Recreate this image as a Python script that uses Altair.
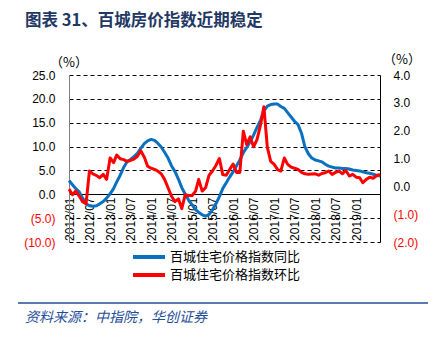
import altair as alt
import pandas as pd

# ---------------- data ----------------
months = pd.date_range("2012-01-01", periods=92, freq="MS").strftime("%Y/%m/%d").tolist()

# 百城住宅价格指数同比 (%, left axis)
yoy = [2.9, 2.0, 1.2, 0.5, -0.8, -2.0, -2.4, -2.5, -2.4, -2.0, -1.5, -0.8,
       0.1, 1.2, 2.6, 4.0, 5.6, 6.8, 7.3, 7.9, 8.6, 9.6, 10.6, 11.2,
       11.5, 11.3, 10.7, 9.9, 8.8, 7.6, 6.0, 4.8, 3.2, 1.4, 0.0, -1.2,
       -2.2, -3.2, -3.8, -4.3, -4.6, -4.2, -3.3, -2.0, -0.5, 1.2, 2.4, 3.6,
       4.7, 6.0, 7.2, 8.7, 9.8, 11.0, 12.4, 14.0, 15.5, 17.5, 18.5, 18.8,
       18.9, 18.9, 18.4, 18.0, 17.1, 16.2, 15.3, 14.6, 12.8, 10.0, 8.5, 7.6,
       7.2, 7.0, 6.8, 6.3, 5.9, 5.7, 5.5, 5.5, 5.4, 5.4, 5.3, 5.1,
       5.0, 4.9, 4.7, 4.5, 4.4, 4.2, 4.0, 3.8]

# 百城住宅价格指数环比 (%, right axis)
mom = [-0.1, -0.3, -0.17, -0.35, -0.55, -0.62, 0.55, 0.45, 0.39, 0.31, 0.43, 0.25,
       1.02, 0.85, 1.12, 0.99, 0.96, 0.9, 0.93, 0.98, 1.08, 1.28, 1.05, 0.72,
       0.65, 0.61, 0.55, 0.45, 0.25, -0.05, -0.35, -0.55, -0.45, -0.8, -0.3, -0.33,
       -0.33, -0.17, 0.25, -0.17, -0.05, 0.4, 0.55, 0.75, 1.0, 0.42, 0.4, 0.6,
       0.8, 0.5, 0.5, 1.98, 1.5, 1.78, 1.42, 1.68, 2.2, 2.86, 1.4, 0.9,
       0.79, 0.6, 0.55, 1.02, 0.79, 0.69, 0.65, 0.61, 0.5, 0.45, 0.43, 0.44,
       0.45, 0.4, 0.46, 0.49, 0.55, 0.43, 0.5, 0.55, 0.45, 0.57, 0.37, 0.43,
       0.33, 0.31, 0.13, 0.25, 0.33, 0.29, 0.38, 0.43]

tick_months = [(2012, 1), (2012, 7), (2013, 1), (2013, 7), (2014, 1), (2014, 7),
               (2015, 1), (2015, 7), (2016, 1), (2016, 7), (2017, 1), (2017, 7),
               (2018, 1), (2018, 7), (2019, 1)]
left_ticks = [-10, -5, 0, 5, 10, 15, 20, 25]
right_ticks = [-2, -1, 0, 1, 2, 3, 4]

names = ["百城住宅价格指数同比", "百城住宅价格指数环比"]
colors = ["#0A70C0", "#FF0000"]

title_text = "图表 31、百城房价指数近期稳定"
unit_text = "（%）"
source_text = "资料来源：中指院，华创证券"

# ---------------- chart ----------------
df = pd.DataFrame({"month": months, "yoy": yoy, "mom": mom})

W, H = 311, 167
FONT = "Liberation Sans"
CJK = "Noto Sans CJK SC"

label_expr = ("datum.value < 0 ? '(' + format(-datum.value, '.1f') + ')' "
              ": format(datum.value, '.1f')")
label_color = {"condition": {"test": "datum.value < 0", "value": "#FF0000"},
               "value": "#000000"}

x_enc = alt.X(
    "month:T",
    scale=alt.Scale(domain=[alt.DateTime(year=2012, month=1, date=1),
                            alt.DateTime(year=2019, month=8, date=1)]),
    axis=alt.Axis(title=None, format="%Y/%m",
                  values=[alt.DateTime(year=y, month=m, date=1) for y, m in tick_months],
                  labelAngle=270, offset=-48, ticks=False, grid=False,
                  domainColor="#000000", domainWidth=1.2, labelPadding=3,
                  labelFont=FONT, labelFontSize=12, labelColor="#000000",
                  labelOverlap=False, labelFlush=False),
)

blue = alt.Chart(df).mark_line(
    strokeWidth=3, strokeJoin="round", color=colors[0]
).encode(
    x=x_enc,
    y=alt.Y("yoy:Q", scale=alt.Scale(domain=[-10, 25], nice=False, zero=False),
            axis=alt.Axis(title=None, values=left_ticks, labelExpr=label_expr,
                          labelColor=label_color, grid=True, gridDash=[4, 3],
                          gridColor="#000000", gridWidth=1, ticks=False,
                          domainColor="#808080", domainWidth=1, labelPadding=14,
                          labelFont=FONT, labelFontSize=12)),
)

red = alt.Chart(df).mark_line(
    strokeWidth=3, strokeJoin="round", color=colors[1]
).encode(
    x=x_enc,
    y=alt.Y("mom:Q", scale=alt.Scale(domain=[-2, 4], nice=False, zero=False),
            axis=alt.Axis(title=None, orient="right", values=right_ticks,
                          labelExpr=label_expr, labelColor=label_color, grid=False,
                          ticks=False, domainColor="#000000", domainWidth=1,
                          labelPadding=13, labelFont=FONT, labelFontSize=12)),
)


def txt(s, xv, yv, **kw):
    return alt.Chart(pd.DataFrame({"t": [s]})).mark_text(**kw).encode(
        x=alt.value(xv), y=alt.value(yv), text="t:N")


def hline(x1, x2, yv, color, width):
    return alt.Chart(pd.DataFrame({"t": [0]})).mark_rule(
        color=color, strokeWidth=width
    ).encode(x=alt.value(x1), x2=alt.value(x2), y=alt.value(yv))


title = txt(title_text, -44, -54, align="left", baseline="middle", font=CJK,
            fontSize=16.5, fontWeight="bold", color="#1F3864")
unit_l = txt(unit_text, 0, -12, align="center", baseline="middle", font=CJK,
             fontSize=13, color="#000000")
unit_r = txt(unit_text, 333, -15, align="center", baseline="middle", font=CJK,
             fontSize=13, color="#000000")
source = txt(source_text, -44, 243, align="left", baseline="middle", font=CJK,
             fontSize=14, fontStyle="italic", color="#1F4E9A")
bottom_rule = hline(-51, 359, 228, "#1F4E9A", 1.5)

# legend (drawn as guide annotations)
leg_line1 = hline(64, 96, 182, colors[0], 4)
leg_line2 = hline(64, 96, 200, colors[1], 4)
leg_text1 = txt(names[0], 101, 182, align="left", baseline="middle", font=CJK,
                fontSize=13, color="#000000")
leg_text2 = txt(names[1], 101, 200, align="left", baseline="middle", font=CJK,
                fontSize=13, color="#000000")

chart = alt.layer(
    blue, red, title, unit_l, unit_r, source, bottom_rule,
    leg_line1, leg_line2, leg_text1, leg_text2,
).resolve_scale(
    y="independent"
).properties(
    width=W, height=H,
    padding={"left": 69, "top": 75, "right": 63, "bottom": 95},
    autosize=alt.AutoSizeParams(type="none"),
    background="#FFFFFF",
).configure_view(stroke=None)

chart.save("out.html", embed_options={"renderer": "svg", "actions": False})
